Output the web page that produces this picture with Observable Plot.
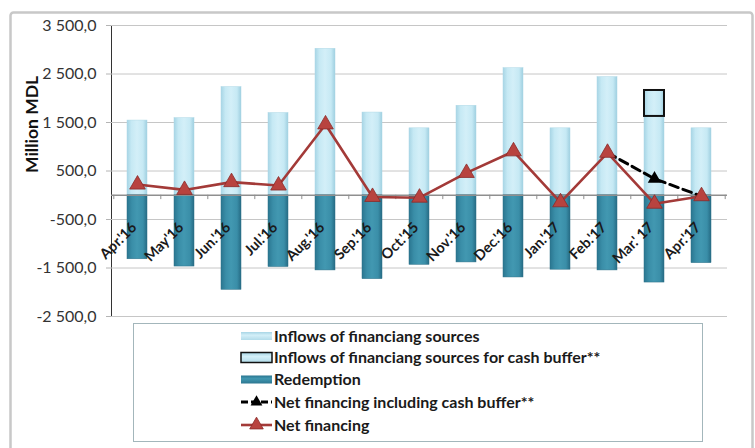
<!DOCTYPE html>
<html>
<head>
<meta charset="utf-8">
<script src="https://cdn.jsdelivr.net/npm/d3@7"></script>
<script src="https://cdn.jsdelivr.net/npm/@observablehq/plot@0.6"></script>
<style>
  html, body { margin: 0; padding: 0; background: #fff; }
  #wrap { position: relative; width: 755px; height: 448px; overflow: hidden; font-family: Lato, "Open Sans", sans-serif; }
  #wrap svg.overlay { position: absolute; left: 0; top: 0; pointer-events: none; }
  #chart svg [aria-label="y-axis tick"] { stroke: #b4b4b4; }
  #chart svg [aria-label="y-axis line"] { stroke: #c4c4c4; }
</style>
</head>
<body>
<div id="wrap"><div id="chart"></div></div>
<script>
const categories = ["Apr.'16","May'16","Jun.'16","Jul.'16","Aug.'16","Sep.'16","Oct.'15","Nov.'16","Dec.'16","Jan.'17","Feb.'17","Mar.' 17","Apr.'17"];
const inflows    = [1540, 1590, 2230, 1695, 3020, 1705, 1380, 1845, 2620, 1380, 2435, 1625, 1380];
const cashBuffer = [null, null, null, null, null, null, null, null, null, null, null, 535, null];
const redemption = [1320, 1470, 1950, 1480, 1550, 1730, 1435, 1385, 1695, 1535, 1550, 1800, 1400];
const netFinancing = [220, 110, 270, 200, 1460, -35, -50, 460, 905, -145, 875, -175, -20];
const netInclBuffer = [null, null, null, null, null, null, null, null, null, null, 875, 340, -20];
const yTicks = [-2500, -1500, -500, 500, 1500, 2500, 3500];
const seriesNames = ["Inflows of financiang sources", "Inflows of financiang sources for cash buffer**", "Redemption", "Net financing including cash buffer**", "Net financing"];
const yLabel = "Million MDL";

const rows = categories.map((c, i) => ({
  cat: c, inflow: inflows[i], buffer: cashBuffer[i], redemption: -redemption[i],
  net: netFinancing[i], netBuf: netInclBuffer[i]
}));

const fmt = d3.formatLocale({decimal: ",", thousands: " ", grouping: [3], currency: ["", ""], minus: "-"}).format(",.1f");

const chart = Plot.plot({
  width: 755, height: 448,
  marginLeft: 111, marginRight: 28, marginTop: 25, marginBottom: 132,
  style: {fontFamily: "Lato, 'Open Sans', sans-serif", fontSize: "16px", color: "#333", background: "transparent", overflow: "visible"},
  x: {domain: categories, paddingInner: 0.58, paddingOuter: 0.29, align: 0.5, axis: null},
  y: {domain: [-2500, 3500], ticks: yTicks, tickFormat: fmt, tickSize: 5, tickPadding: 10, label: null, line: true},
  marks: [
    Plot.ruleY(yTicks, {stroke: "#c6c6c6", strokeWidth: 1}),
    Plot.barY(rows, {x: "cat", y1: 0, y2: "inflow", fill: "url(#gLight)", stroke: "#aed8e6", strokeWidth: 0.5}),
    Plot.barY(rows.filter(d => d.buffer != null), {x: "cat", y1: "inflow", y2: d => d.inflow + d.buffer, fill: "url(#gLight)", stroke: "#111", strokeWidth: 2}),
    Plot.barY(rows, {x: "cat", y1: 0, y2: "redemption", fill: "url(#gDark)", stroke: "#2c7088", strokeWidth: 0.5}),
    Plot.ruleY([0], {stroke: "#8f8f8f", strokeWidth: 1.3}),
    Plot.ruleX(categories, {x: d => d, y1: 0, y2: -90, dx: -23.7, stroke: "#8f8f8f"}),
    Plot.ruleX(categories.slice(-1), {x: d => d, y1: 0, y2: -90, dx: 23.7, stroke: "#8f8f8f"}),
    Plot.text(categories, {x: d => d, y: () => 0, text: d => d, rotate: -45, textAnchor: "end", lineAnchor: "bottom", dx: 0, dy: 33, fontWeight: "bold", fontSize: 14.5, fill: "#1a1a1a"}),
    Plot.text([yLabel], {frameAnchor: "left", dx: -79, dy: 2, rotate: -90, fontWeight: "bold", fontSize: 17.5, fill: "#111"}),
    Plot.line(rows, {x: "cat", y: "netBuf", stroke: "#000", strokeWidth: 3, strokeDasharray: "9,5"}),
    Plot.line(rows, {x: "cat", y: "net", stroke: "#a33a38", strokeWidth: 2.6}),
    Plot.dot(rows, {x: "cat", y: "net", symbol: "triangle", r: 5.8, fill: "#b8433f", stroke: "#8a2a28", strokeWidth: 0.8}),
    Plot.dot(rows.filter(d => d.buffer != null), {x: "cat", y: "netBuf", symbol: "triangle", r: 5, fill: "#000"})
  ]
});

const svg = d3.select(chart.tagName.toLowerCase() === "svg" ? chart : chart.querySelector("svg"));
function addGradients(sel) {
  const defs = sel.insert("defs", ":first-child");
  const g1 = defs.append("linearGradient").attr("id", "gLight").attr("x1", "0").attr("x2", "1").attr("y1", "0").attr("y2", "0");
  [["0%", "#a7d5e5"], ["22%", "#c6e9f4"], ["50%", "#d3eff8"], ["80%", "#c6e9f4"], ["100%", "#9fcfe0"]]
    .forEach(([o, c]) => g1.append("stop").attr("offset", o).attr("stop-color", c));
  const g2 = defs.append("linearGradient").attr("id", "gDark").attr("x1", "0").attr("x2", "1").attr("y1", "0").attr("y2", "0");
  [["0%", "#2a7690"], ["25%", "#3a8ea8"], ["50%", "#4298b1"], ["80%", "#3a8ea8"], ["100%", "#266b84"]]
    .forEach(([o, c]) => g2.append("stop").attr("offset", o).attr("stop-color", c));
}
addGradients(svg);
document.getElementById("chart").appendChild(chart);

// overlay: outer frame and legend
const ov = d3.select("#wrap").append("svg").attr("class", "overlay").attr("width", 755).attr("height", 448);
const defs2 = ov.append("defs");
{
  const g1 = defs2.append("linearGradient").attr("id", "lgLight").attr("x1", "0").attr("x2", "0").attr("y1", "0").attr("y2", "1");
  [["0%", "#a7d5e5"], ["40%", "#d3eff8"], ["100%", "#b3dcea"]].forEach(([o, c]) => g1.append("stop").attr("offset", o).attr("stop-color", c));
  const g2 = defs2.append("linearGradient").attr("id", "lgDark").attr("x1", "0").attr("x2", "0").attr("y1", "0").attr("y2", "1");
  [["0%", "#2a7690"], ["40%", "#4298b1"], ["100%", "#2c7690"]].forEach(([o, c]) => g2.append("stop").attr("offset", o).attr("stop-color", c));
}
ov.append("rect").attr("x", 10.5).attr("y", 12.5).attr("width", 742).attr("height", 470).attr("rx", 3)
  .attr("fill", "none").attr("stroke", "#c8c8c8").attr("stroke-width", 2.5);
ov.append("rect").attr("x", 133.5).attr("y", 323.5).attr("width", 569).attr("height", 118)
  .attr("fill", "#fff").attr("stroke", "#a3b6bb").attr("stroke-width", 1);

const rowY = [336, 357.5, 379.5, 402, 425];
const sx = 241, sw = 31, tx = 274;
ov.append("rect").attr("x", sx).attr("y", rowY[0] - 4).attr("width", sw).attr("height", 8).attr("fill", "url(#lgLight)");
ov.append("rect").attr("x", sx).attr("y", rowY[1] - 5).attr("width", sw).attr("height", 10).attr("fill", "url(#lgLight)").attr("stroke", "#111").attr("stroke-width", 1.5);
ov.append("rect").attr("x", sx).attr("y", rowY[2] - 4).attr("width", sw).attr("height", 8).attr("fill", "url(#lgDark)");
ov.append("line").attr("x1", sx).attr("x2", sx + sw).attr("y1", rowY[3]).attr("y2", rowY[3]).attr("stroke", "#000").attr("stroke-width", 3).attr("stroke-dasharray", "7,3");
ov.append("path").attr("d", d3.symbol(d3.symbolTriangle, 60)()).attr("transform", `translate(${sx + sw / 2},${rowY[3]})`).attr("fill", "#000");
ov.append("line").attr("x1", sx).attr("x2", sx + sw).attr("y1", rowY[4]).attr("y2", rowY[4]).attr("stroke", "#a33a38").attr("stroke-width", 2.6);
ov.append("path").attr("d", d3.symbol(d3.symbolTriangle, 80)()).attr("transform", `translate(${sx + sw / 2},${rowY[4]})`).attr("fill", "#b8433f").attr("stroke", "#8a2a28").attr("stroke-width", 0.8);
seriesNames.forEach((name, i) => {
  ov.append("text").attr("x", tx).attr("y", rowY[i]).attr("dy", "0.35em")
    .attr("font-family", "Lato, 'Open Sans', sans-serif").attr("font-size", 16).attr("font-weight", "bold")
    .attr("fill", "#1a1a1a").text(name);
});
</script>
</body>
</html>
